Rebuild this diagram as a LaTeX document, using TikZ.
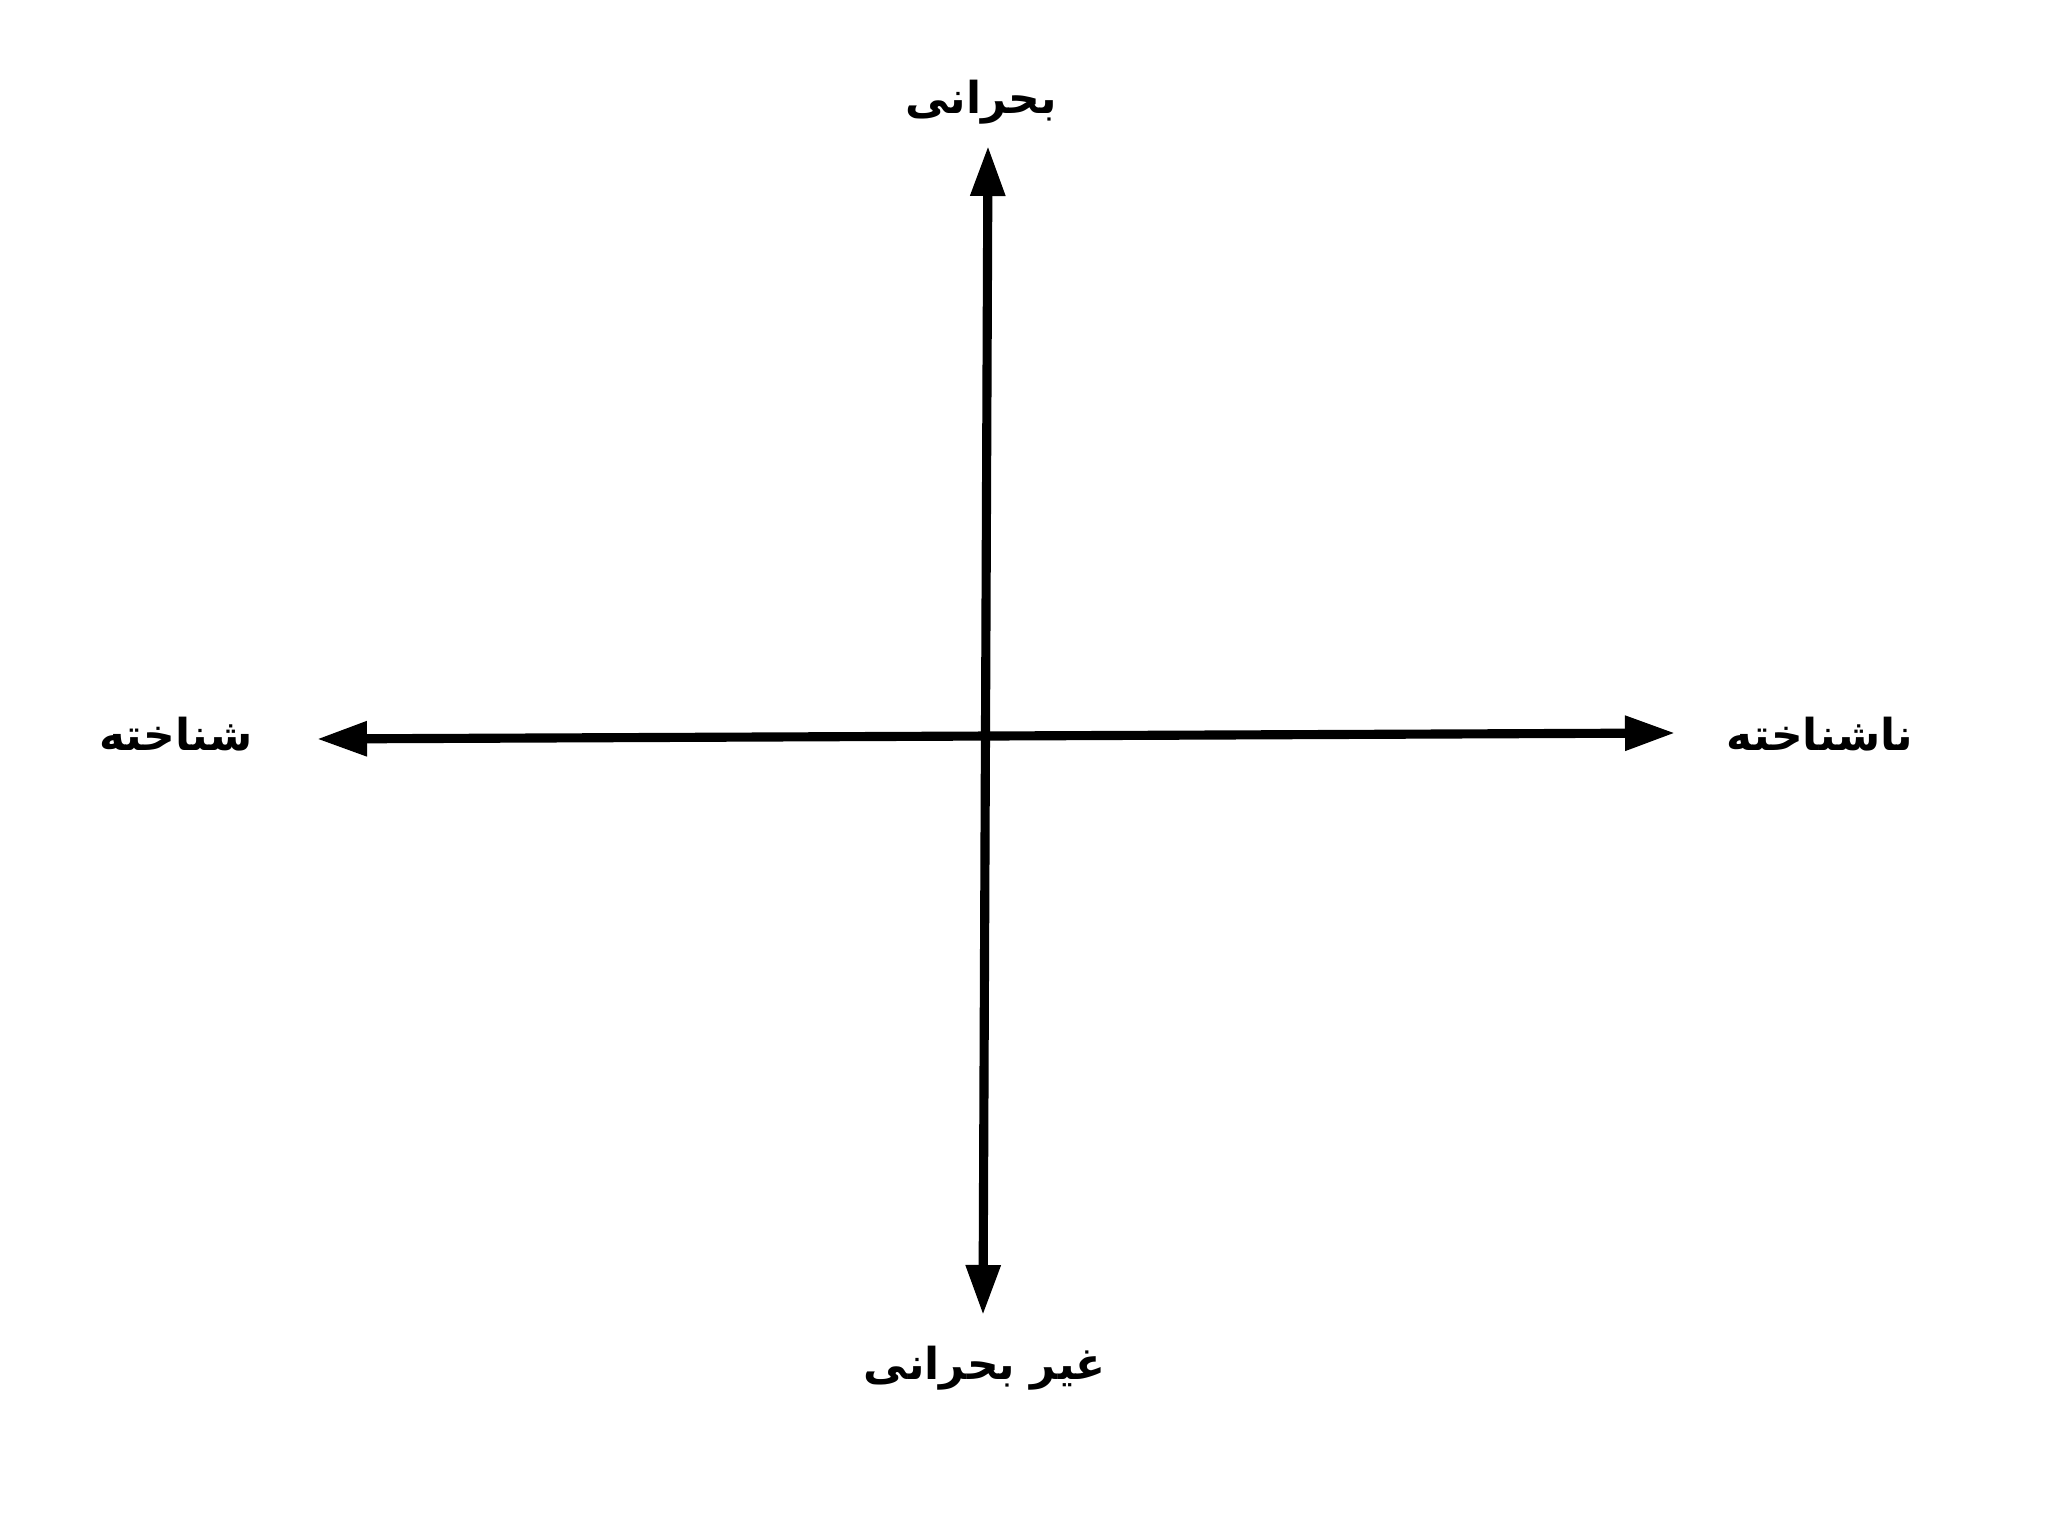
\documentclass[tikz,border=0pt]{standalone}
\usepackage{fontspec}
\newfontfamily\farsifont[Script=Arabic]{DejaVu Sans}
\TeXXeTstate=1
\usetikzlibrary{arrows.meta}
\newcommand{\fa}[1]{\farsifont\bfseries\beginR #1\endR}
\begin{document}
\begin{tikzpicture}[
        axis/.style={line width=2.6pt, {Triangle[length=5mm,width=3.3mm]}-{Triangle[length=5mm,width=3.3mm]}},
        label/.style={font=\fontsize{12.5}{12.5}\selectfont, inner sep=0pt}
    ]
        \useasboundingbox[fill=white] (0,0) rectangle (20.48,15.35);
        % ends of the two axes
        \coordinate (up) at (9.88,13.89);
        \coordinate (down) at (9.83,2.20);
        \coordinate (west) at (3.17,7.96);
        \coordinate (east) at (16.75,8.02);
        \draw[axis] (down) -- (up);
        \draw[axis] (west) -- (east);
        % labels
        \node[label] (critical) at (9.81,14.33) {\fa{بحرانی}};
        \node[label] (noncritical) at (9.85,1.67) {\fa{غیر بحرانی}};
        \node[label] (known) at (1.76,8.01) {\fa{شناخته}};
        \node[label] (unknown) at (18.20,8.01) {\fa{ناشناخته}};
    \end{tikzpicture}
\end{document}
